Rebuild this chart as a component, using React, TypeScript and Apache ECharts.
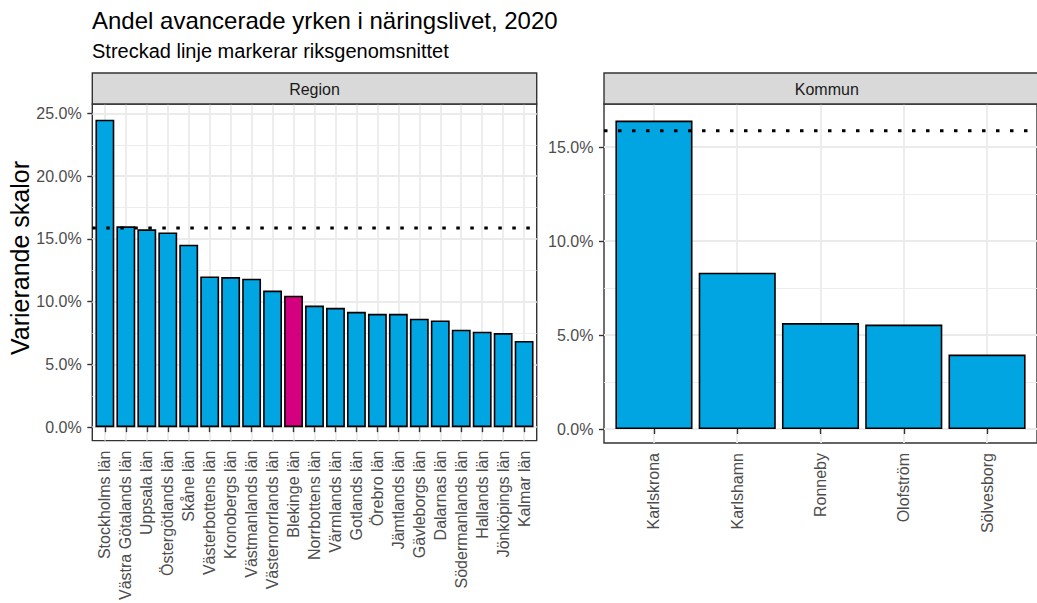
import React, { useEffect, useRef } from "react";
import * as echarts from "echarts";

const TITLE = "Andel avancerade yrken i näringslivet, 2020";
const SUBTITLE = "Streckad linje markerar riksgenomsnittet";
const Y_TITLE = "Varierande skalor";
const PANEL_LABELS = ["Region", "Kommun"];

const regionNames = [
  "Stockholms län",
  "Västra Götalands län",
  "Uppsala län",
  "Östergötlands län",
  "Skåne län",
  "Västerbottens län",
  "Kronobergs län",
  "Västmanlands län",
  "Västernorrlands län",
  "Blekinge län",
  "Norrbottens län",
  "Värmlands län",
  "Gotlands län",
  "Örebro län",
  "Jämtlands län",
  "Gävleborgs län",
  "Dalarnas län",
  "Södermanlands län",
  "Hallands län",
  "Jönköpings län",
  "Kalmar län",
];
const regionValues = [
  24.5, 16.0, 15.76, 15.52, 14.54, 12.01, 11.96, 11.83, 10.88, 10.48, 9.69,
  9.51, 9.19, 9.03, 9.03, 8.64, 8.5, 7.77, 7.61, 7.5, 6.87,
];
const highlightRegion = "Blekinge län";

const kommunNames = ["Karlskrona", "Karlshamn", "Ronneby", "Olofström", "Sölvesborg"];
const kommunValues = [16.42, 8.32, 5.64, 5.56, 3.96];

const riksSnitt = 15.87;

const regionTicks = [0, 5, 10, 15, 20, 25];
const kommunTicks = [0, 5, 10, 15];

const FONT = "Liberation Sans";
const BLUE = "#00A5E1";
const PINK = "#D5007D";
const GRID_COLOR = "#EBEBEB";
const DARK = "#333333";

const PANELS = [
  { left: 92.3, top: 104, width: 444.4, height: 339, yMin: -1.07, yMax: 25.75 },
  { left: 604, top: 104, width: 445.6, height: 339, yMin: -0.745, yMax: 17.3 },
];
const STRIP_TOP = 73;

function pct(v: number) {
  return v.toFixed(1) + "%";
}

export default function App() {
  const ref = useRef<HTMLDivElement>(null);

  useEffect(() => {
    if (!ref.current) return;
    const chart = echarts.init(ref.current, undefined, { renderer: "svg" });

    const cats = [regionNames, kommunNames];
    const vals = [regionValues, kommunValues];
    const yTicks = [regionTicks, kommunTicks];

    const grids = PANELS.map((p) => ({
      left: p.left,
      top: p.top,
      width: p.width,
      height: p.height,
      show: true,
      borderColor: DARK,
      borderWidth: 1.4,
      backgroundColor: "#FFFFFF",
      containLabel: false,
    }));

    const xAxes = PANELS.map((p, gi) => {
      const names = cats[gi];
      const idx = names.map((_, i) => i + 1);
      return {
        type: "value",
        gridIndex: gi,
        min: 0.4,
        max: names.length + 0.6,
        minInterval: 1,
        maxInterval: 1,
        axisLine: { show: false },
        axisTick: {
          show: true,
          length: 5,
          customValues: idx,
          lineStyle: { color: DARK, width: 1.4 },
        },
        axisLabel: {
          show: true,
          rotate: 90,
          margin: 10,
          fontSize: 16,
          fontFamily: FONT,
          color: "#4D4D4D",
          customValues: idx,
          hideOverlap: false,
          formatter: (v: number) =>
            Math.abs(v - Math.round(v)) < 1e-6 ? names[Math.round(v) - 1] ?? "" : "",
        },
        splitLine: { show: true, lineStyle: { color: GRID_COLOR, width: 1.8 } },
      };
    });

    const yAxes = PANELS.map((p, gi) => ({
      type: "value",
      gridIndex: gi,
      min: p.yMin,
      max: p.yMax,
      minInterval: 5,
      maxInterval: 5,
      axisLine: { show: false },
      axisTick: {
        show: true,
        length: 5,
        customValues: yTicks[gi],
        lineStyle: { color: DARK, width: 1.4 },
      },
      axisLabel: {
        show: true,
        margin: 10.6,
        fontSize: 16,
        fontFamily: FONT,
        color: "#4D4D4D",
        customValues: yTicks[gi],
        formatter: (v: number) =>
          Math.abs(v / 5 - Math.round(v / 5)) < 1e-6 ? pct(Math.abs(v) < 1e-9 ? 0 : v) : "",
      },
      splitLine: { show: true, lineStyle: { color: GRID_COLOR, width: 1.8 } },
      minorTick: { show: false, splitNumber: 2 },
      minorSplitLine: { show: true, lineStyle: { color: GRID_COLOR, width: 0.9 } },
    }));

    const series: any[] = [];
    PANELS.forEach((p, gi) => {
      const names = cats[gi];
      const values = vals[gi];
      const unit = p.width / (names.length + 0.2);
      const xMin = 0.4;
      const xMax = names.length + 0.6;
      series.push({
        type: "bar",
        xAxisIndex: gi,
        yAxisIndex: gi,
        barWidth: unit * 0.9,
        z: 2,
        data: names.map((n, i) => ({
          value: [i + 1, values[i]],
          itemStyle: { color: n === highlightRegion ? PINK : BLUE },
        })),
        itemStyle: { borderColor: "#000000", borderWidth: 1.6 },
      });
      series.push({
        type: "line",
        xAxisIndex: gi,
        yAxisIndex: gi,
        z: 5,
        symbol: "none",
        silent: true,
        clip: false,
        lineStyle: { color: "#000000", width: 3, type: [3.5, 10.5], cap: "butt" },
        data: [
          [xMin, riksSnitt],
          [xMax, riksSnitt],
        ],
      });
    });

    const graphics: any[] = [];
    PANELS.forEach((p, gi) => {
      graphics.push({
        type: "rect",
        shape: { x: p.left, y: STRIP_TOP, width: p.width, height: p.top - STRIP_TOP },
        style: { fill: "#D9D9D9", stroke: DARK, lineWidth: 1.4 },
        z: 10,
      });
      graphics.push({
        type: "text",
        x: p.left + p.width / 2,
        y: (STRIP_TOP + p.top) / 2 + 0.5,
        style: {
          text: PANEL_LABELS[gi],
          fill: "#1A1A1A",
          fontSize: 16,
          fontFamily: FONT,
          align: "center",
          verticalAlign: "middle",
          textAlign: "center",
          textVerticalAlign: "middle",
        },
        z: 11,
      });
    });
    graphics.push({
      type: "text",
      x: 92,
      y: 20,
      style: {
        text: TITLE,
        fill: "#000000",
        fontSize: 24,
        fontFamily: FONT,
        align: "left",
        verticalAlign: "middle",
        textAlign: "left",
        textVerticalAlign: "middle",
      },
    });
    graphics.push({
      type: "text",
      x: 92,
      y: 50.5,
      style: {
        text: SUBTITLE,
        fill: "#000000",
        fontSize: 20,
        fontFamily: FONT,
        align: "left",
        verticalAlign: "middle",
        textAlign: "left",
        textVerticalAlign: "middle",
      },
    });
    graphics.push({
      type: "text",
      x: 20,
      y: 258,
      rotation: Math.PI / 2,
      style: {
        text: Y_TITLE,
        fill: "#000000",
        fontSize: 25,
        fontFamily: FONT,
        align: "center",
        verticalAlign: "middle",
        textAlign: "center",
        textVerticalAlign: "middle",
      },
    });

    chart.setOption({
      animation: false,
      backgroundColor: "#FFFFFF",
      textStyle: { fontFamily: FONT },
      grid: grids,
      xAxis: xAxes,
      yAxis: yAxes,
      series,
      graphic: graphics,
    });

    return () => {
      chart.dispose();
    };
  }, []);

  return (
    <div
      ref={ref}
      style={{ position: "fixed", left: 0, top: 0, width: 1037, height: 603 }}
    />
  );
}
